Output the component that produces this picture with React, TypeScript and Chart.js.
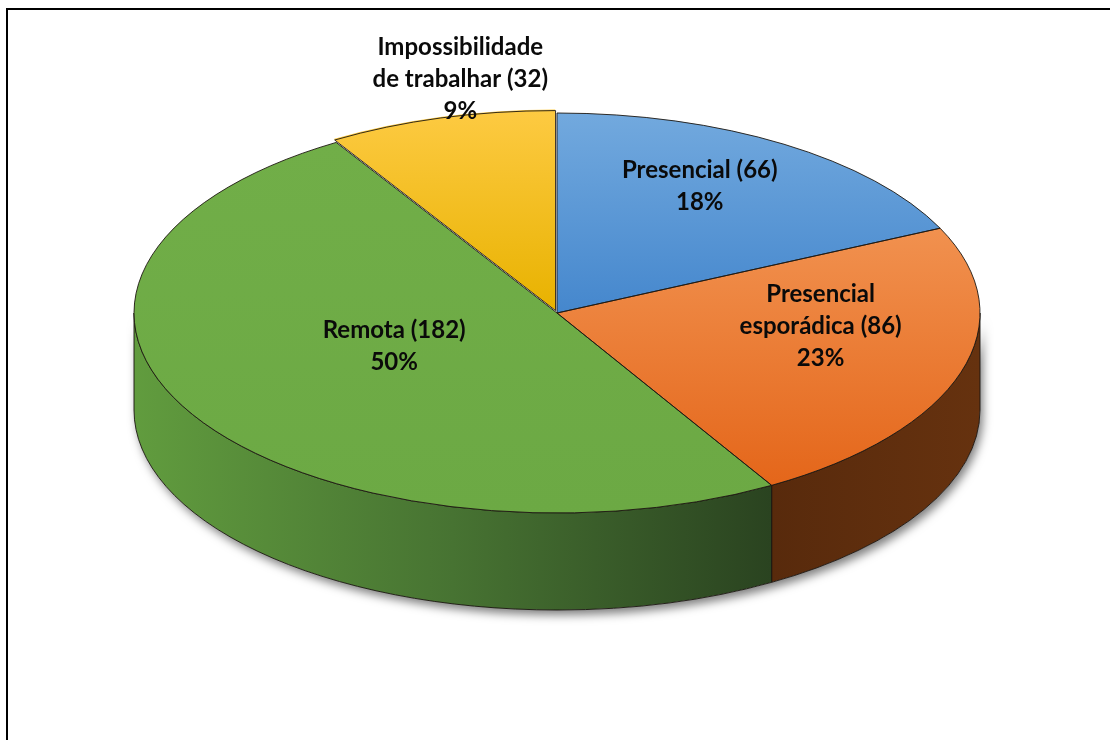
import { useEffect, useRef } from "react";
import { Chart, registerables } from "chart.js";

Chart.register(...registerables);

// Category names, split where each label wraps onto a new line
const categoryLines: string[][] = [
  ["Presencial"],
  ["Presencial", "esporádica"],
  ["Remota"],
  ["Impossibilidade", "de trabalhar"],
];
const counts: number[] = [66, 86, 182, 32];

// Top-face colours (light at the top of each slice, darker lower down)
const faceTop = ["#72a9de", "#f1914f", "#71ae48", "#fdca42"];
const faceBottom = ["#4587cd", "#e4661a", "#6ca944", "#e8b200"];
// Side-wall colours (left end → right end)
const wallLeft = ["#2f557f", "#582a0c", "#619c3e", "#8a6a00"];
const wallRight = ["#2a4a70", "#66320f", "#2a4320", "#6a5000"];
const sliceOffsets = [0, 0, 0, 10];

// Label placement: fraction of the radius along the slice's mid-angle, plus a small nudge
const labelRadius = [0.62, 0.645, 0.46, 1.0];
const labelNudge: [number, number][] = [[2, 1], [3, -2], [4, 9], [18, -18]];

const W = 1110;
const H = 740;
const CX = 557;
const CY = 313;
const RX = 423;
const RY = 200;
const DEPTH = 97;
const LABEL_CY = 290;
const LINE_H = 32;
const FONT = "bold 24px Lato";

const total = counts.reduce((a, b) => a + b, 0);

function sliceAngles(i: number): [number, number] {
  let cum = 0;
  for (let j = 0; j < i; j++) cum += counts[j];
  const s = -Math.PI / 2 + (2 * Math.PI * cum) / total;
  return [s, s + (2 * Math.PI * counts[i]) / total];
}

function wedgeYRange(s: number, e: number): [number, number] {
  const ys = [CY, CY + RY * Math.sin(s), CY + RY * Math.sin(e)];
  for (let k = -2; k <= 2; k++) {
    const a1 = Math.PI / 2 + k * Math.PI;
    if (a1 > s && a1 < e) ys.push(CY + RY * Math.sin(a1));
  }
  return [Math.min(...ys), Math.max(...ys)];
}

function faceGradient(c: any) {
  const i = c.dataIndex;
  if (i === undefined) return faceBottom[0];
  const ctx: CanvasRenderingContext2D = c.chart.ctx;
  const [s, e] = sliceAngles(i);
  const [y0, y1] = wedgeYRange(s, e);
  const g = ctx.createLinearGradient(0, y0, 0, y1);
  g.addColorStop(0, faceTop[i]);
  g.addColorStop(1, faceBottom[i]);
  return g;
}

const pie3d = {
  id: "pie3d",
  beforeDatasetsDraw(chart: any) {
    const ctx: CanvasRenderingContext2D = chart.ctx;
    const arcs = chart.getDatasetMeta(0).data as any[];
    if (!arcs.length) return;
    const { x, y, outerRadius: r } = arcs[0];
    const rx = RX;
    const ry = RY;

    // soft drop shadow under the front wall
    ctx.save();
    ctx.shadowColor = "rgba(0,0,0,0.5)";
    ctx.shadowBlur = 10;
    ctx.shadowOffsetX = 3;
    ctx.shadowOffsetY = 5;
    ctx.beginPath();
    ctx.ellipse(x, y, rx, ry, 0, 0, Math.PI);
    ctx.ellipse(x, y + DEPTH, rx, ry, 0, Math.PI, 0, true);
    ctx.closePath();
    ctx.fillStyle = "#ffffff";
    ctx.fill();
    ctx.restore();

    // side walls of the slices facing the viewer
    arcs.forEach((arc: any, i: number) => {
      const s = arc.startAngle;
      const e = arc.endAngle;
      for (let k = -1; k <= 1; k++) {
        const lo = Math.max(s, 2 * Math.PI * k);
        const hi = Math.min(e, 2 * Math.PI * k + Math.PI);
        if (hi <= lo) continue;
        const xa = x + rx * Math.cos(lo);
        const xb = x + rx * Math.cos(hi);
        const g = ctx.createLinearGradient(Math.min(xa, xb), 0, Math.max(xa, xb), 0);
        g.addColorStop(0, wallLeft[i]);
        if (i === 2) g.addColorStop(0.5, "#477332");
        g.addColorStop(1, wallRight[i]);
        ctx.beginPath();
        ctx.ellipse(x, y, rx, ry, 0, lo, hi);
        ctx.lineTo(x + rx * Math.cos(hi), y + ry * Math.sin(hi) + DEPTH);
        ctx.ellipse(x, y + DEPTH, rx, ry, 0, hi, lo, true);
        ctx.closePath();
        ctx.fillStyle = g;
        ctx.fill();
        ctx.strokeStyle = "rgba(25,20,15,0.9)";
        ctx.lineWidth = 1;
        ctx.stroke();
      }
    });

    // flatten the circular pie into the ellipse of the top face
    ctx.save();
    ctx.translate(x, y);
    ctx.scale(rx / r, ry / r);
    ctx.translate(-x, -y);
  },
  afterDatasetsDraw(chart: any) {
    const ctx: CanvasRenderingContext2D = chart.ctx;
    const arcs = chart.getDatasetMeta(0).data as any[];
    if (!arcs.length) return;
    ctx.restore();
    const { x, y, outerRadius: r } = arcs[0];

    // slice outlines, built in the flattened space and stroked with an even pen
    arcs.forEach((arc: any) => {
      const mid = (arc.startAngle + arc.endAngle) / 2;
      const off = (arc.options.offset || 0) / 4;
      ctx.save();
      ctx.translate(x, y);
      ctx.scale(RX / r, RY / r);
      ctx.translate(-x, -y);
      ctx.translate(Math.cos(mid) * off, Math.sin(mid) * off);
      ctx.beginPath();
      ctx.moveTo(arc.x, arc.y);
      ctx.arc(arc.x, arc.y, arc.outerRadius, arc.startAngle, arc.endAngle);
      ctx.closePath();
      ctx.restore();
      ctx.strokeStyle = "rgba(30,24,18,0.9)";
      ctx.lineWidth = 1;
      ctx.stroke();
    });

    // data labels: name (count) and percentage
    ctx.save();
    ctx.font = FONT;
    ctx.fillStyle = "#0a0a0a";
    ctx.textAlign = "center";
    ctx.textBaseline = "middle";
    arcs.forEach((arc: any, i: number) => {
      const mid = (arc.startAngle + arc.endAngle) / 2;
      const f = labelRadius[i];
      const px = x + RX * f * Math.cos(mid) + labelNudge[i][0];
      const py = LABEL_CY + RY * f * Math.sin(mid) + labelNudge[i][1];
      const value = chart.data.datasets[0].data[i];
      const lines = categoryLines[i].slice();
      lines[lines.length - 1] = `${lines[lines.length - 1]} (${value})`;
      lines.push(`${Math.round((value / total) * 100)}%`);
      const top = py - ((lines.length - 1) * LINE_H) / 2;
      lines.forEach((t, k) => ctx.fillText(t, px, top + k * LINE_H));
    });
    ctx.restore();
  },
};

export default function App() {
  const canvasRef = useRef<HTMLCanvasElement | null>(null);

  useEffect(() => {
    const canvas = canvasRef.current;
    if (!canvas) return;
    const names = categoryLines.map((l) => l.join(" "));
    const chart = new Chart(canvas, {
      type: "pie",
      data: {
        labels: names,
        datasets: [
          {
            data: counts,
            backgroundColor: faceGradient as any,
            borderWidth: 0,
            offset: sliceOffsets,
            radius: RY,
            clip: false,
          } as any,
        ],
      },
      options: {
        responsive: false,
        animation: false,
        events: [],
        layout: {
          padding: {
            left: Math.max(0, 2 * CX - W),
            right: Math.max(0, W - 2 * CX),
            top: CY - RY,
            bottom: H - CY - RY,
          },
        },
        plugins: {
          legend: { display: false },
          tooltip: { enabled: false },
        },
      } as any,
      plugins: [pie3d as any],
    });
    return () => chart.destroy();
  }, []);

  return (
    <div
      style={{
        position: "fixed",
        left: 0,
        top: 0,
        width: W,
        height: H,
        overflow: "hidden",
        background: "#ffffff",
      }}
    >
      <div
        style={{
          position: "absolute",
          left: 6,
          top: 8,
          width: W + 40,
          height: H + 40,
          border: "2px solid #000",
          boxShadow: "1px 1px 0 #8a8a8a",
        }}
      />
      <canvas
        ref={canvasRef}
        width={W}
        height={H}
        style={{ position: "absolute", left: 0, top: 0, width: W, height: H }}
      />
    </div>
  );
}
